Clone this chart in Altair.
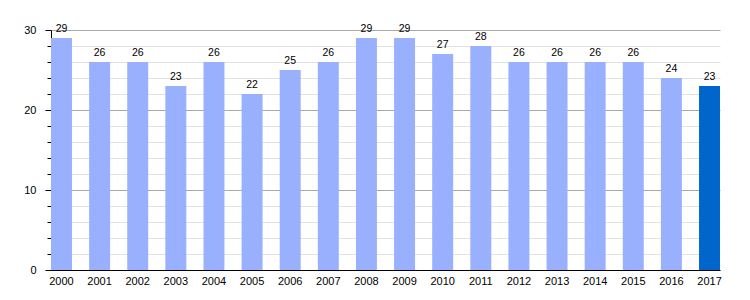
import altair as alt
import pandas as pd

years = [str(y) for y in range(2000, 2018)]
values = [29, 26, 26, 23, 26, 22, 25, 26, 29, 29, 27, 28, 26, 26, 26, 26, 24, 23]
highlight = ["no"] * 17 + ["yes"]
y_ticks = list(range(0, 31, 2))

df = pd.DataFrame({"year": years, "value": values, "hl": highlight})

base = alt.Chart(df)

bars = base.mark_bar().encode(
    x=alt.X("year:N", title=None,
            scale=alt.Scale(paddingInner=0.45, paddingOuter=0),
            axis=alt.Axis(labelAngle=0, labelFont="Liberation Sans", labelFontSize=11,
                          labelColor="#000", domainColor="#000", ticks=False,
                          labelPadding=5)),
    y=alt.Y("value:Q", title=None,
            scale=alt.Scale(domain=[0, 30], nice=False),
            axis=alt.Axis(values=y_ticks, tickCount=40,
                          labelExpr="datum.value % 10 === 0 ? datum.label : ''",
                          labelFont="Liberation Sans", labelFontSize=11, labelColor="#000",
                          domainColor="#000", tickColor="#000",
                          tickSize={"condition": {"test": "datum.value % 10 === 0", "value": 6}, "value": 4},
                          gridColor={"condition": {"test": "datum.value % 10 === 0", "value": "#a8a8a8"}, "value": "#e2e2e2"},
                          labelPadding=9)),
    color=alt.Color("hl:N", scale=alt.Scale(domain=["no", "yes"], range=["#99b0ff", "#0066cc"]), legend=None),
)

text = base.mark_text(baseline="bottom", dy=-4, font="Liberation Sans", fontSize=10.5, color="#000").encode(
    x=alt.X("year:N"), y=alt.Y("value:Q"), text="value:Q"
)

chart = (bars + text).properties(
    width=669, height=240,
    padding={"left": 51, "top": 30, "right": 30, "bottom": 30},
    autosize=alt.AutoSizeParams(type="none"),
).configure_view(stroke=None)

chart.save("out.html", embed_options={"renderer": "svg", "actions": False})
